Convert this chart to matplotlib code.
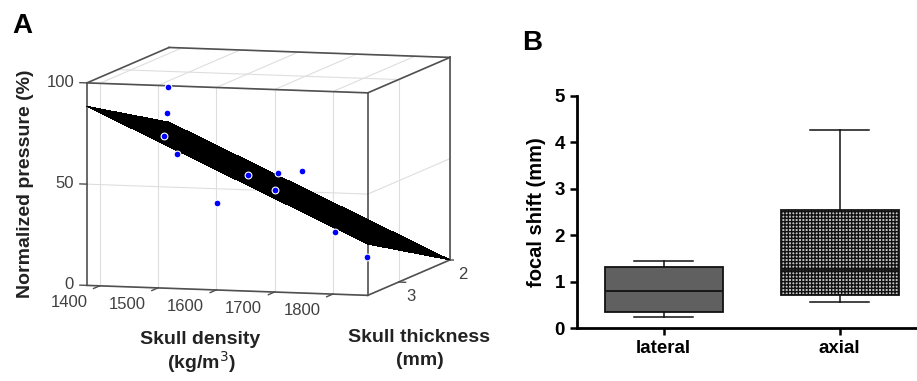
import numpy as np
import matplotlib.pyplot as plt
from mpl_toolkits.mplot3d import proj3d

plt.rcParams['font.family'] = ['Liberation Sans', 'DejaVu Sans']
plt.rcParams['hatch.color'] = '#8a8a8a'

# panel A: measured points
density = [1420, 1401, 1423, 1453, 1549, 1548, 1680, 1604, 1738, 1742, 1855]
thickness = [2.5, 2.3, 2.6, 2.7, 3.0, 2.4, 3.3, 2.5, 3.5, 2.9, 3.55]
pressure = [86.6, 71.2, 63.3, 55.9, 36.0, 43.3, 55.5, 37.3, 58.9, 22.6, 18.4]

# panel A: fitted plane corners (rows = thickness, cols = density)
fit_density = [1378, 1860]
fit_thickness = [2.0, 3.6]
fit_pressure = [[63.1, 0.0], [88.4, 25.3]]

density_ticks = [1400, 1500, 1600, 1700, 1800]
thickness_ticks = [2, 3]
pressure_ticks = [0, 50, 100]

# panel B: box plot stats
groups = ['lateral', 'axial']
whisker_low = [0.24, 0.57]
q1 = [0.34, 0.72]
median = [0.79, 1.24]
q3 = [1.31, 2.54]
whisker_high = [1.45, 4.25]

fig = plt.figure(figsize=(9.17, 3.81), dpi=100)

# ---- A ----
axA = fig.add_axes([0.0121, 0.0366, 0.55, 1.0], projection='3d', proj_type='ortho',
                   computed_zorder=False)
axA.view_init(elev=-7.1, azim=-106)
axA.set_box_aspect((295, 301, 206), zoom=1.184)
axA.set_xlim(1378, 1860)
axA.set_ylim(2.0, 3.6)
axA.set_zlim(0, 100)
axA.set_xticks([])
axA.set_yticks([])
axA.set_zticks([])
for axis in (axA.xaxis, axA.yaxis, axA.zaxis):
    axis.set_pane_color((1, 1, 1, 0))
    axis.line.set_linewidth(0)
axA.grid(False)

x0, x1 = axA.get_xlim()
y0, y1 = axA.get_ylim()
z0, z1 = axA.get_zlim()

# MATLAB-like grid on the three back walls
grid_kw = dict(color='#dedede', linewidth=0.8, zorder=0)
for d in density_ticks:
    axA.plot([d, d], [y1, y1], [z0, z1], **grid_kw)
    axA.plot([d, d], [y0, y1], [z1, z1], **grid_kw)
for t in thickness_ticks:
    axA.plot([x1, x1], [t, t], [z0, z1], **grid_kw)
    axA.plot([x0, x1], [t, t], [z1, z1], **grid_kw)
for p in pressure_ticks:
    axA.plot([x0, x1], [y1, y1], [p, p], **grid_kw)
    axA.plot([x1, x1], [y0, y1], [p, p], **grid_kw)

# box outline of the back walls
edge_kw = dict(color='#505050', linewidth=1.2, zorder=0.5)
axA.plot([x0, x1], [y1, y1], [z0, z0], **edge_kw)
axA.plot([x0, x1], [y1, y1], [z1, z1], **edge_kw)
axA.plot([x0, x0], [y1, y1], [z0, z1], **edge_kw)
axA.plot([x1, x1], [y1, y1], [z0, z1], **edge_kw)
axA.plot([x1, x1], [y0, y1], [z0, z0], **edge_kw)
axA.plot([x1, x1], [y0, y1], [z1, z1], **edge_kw)
axA.plot([x1, x1], [y0, y0], [z0, z1], **edge_kw)
axA.plot([x0, x0], [y0, y1], [z1, z1], **edge_kw)
axA.plot([x0, x1], [y0, y0], [z1, z1], **edge_kw)

# tick marks
tick_kw = dict(color='#505050', linewidth=1.0, zorder=0.5)
for d in density_ticks:
    axA.plot([d, d], [y1, y1 + 0.12], [z0, z0], **tick_kw)
for t in thickness_ticks:
    axA.plot([x1, x1 + 12], [t, t], [z0, z0], **tick_kw)
for p in pressure_ticks:
    axA.plot([x0 - 12, x0], [y1, y1], [p, p], **tick_kw)

X, Y = np.meshgrid(fit_density, fit_thickness)
axA.plot_surface(X, Y, np.array(fit_pressure), color='black', shade=False,
                 linewidth=0, antialiased=False, zorder=1)
axA.scatter(density, thickness, pressure, s=24, c='#0000ff', edgecolors='white',
            linewidths=0.8, depthshade=False, zorder=3)

# tick labels: project 3D anchor points once the view matrix exists
fig.canvas.draw()
lab_kw = dict(fontsize=12, color='#404040', transform=axA.transData)
for d in density_ticks:
    px, py, _ = proj3d.proj_transform(d, 4.2, -1.5, axA.M)
    axA.text2D(px, py, str(d), ha='center', va='center', **lab_kw)
for t in thickness_ticks:
    px, py, _ = proj3d.proj_transform(1882, t, -7, axA.M)
    axA.text2D(px, py, str(t), ha='center', va='center', **lab_kw)
for p in pressure_ticks:
    px, py, _ = proj3d.proj_transform(1356, 3.6, p, axA.M)
    axA.text2D(px, py, str(p), ha='right', va='center', **lab_kw)

fig.text(0.013, 0.965, 'A', fontsize=20, fontweight='bold', va='top')
fig.text(0.028, 0.517, 'Normalized pressure (%)', rotation=90, fontsize=14,
         fontweight='bold', ha='center', va='center', color='#222222')
fig.text(0.218, 0.108, 'Skull density', fontsize=14, fontweight='bold',
         ha='center', va='center', color='#222222')
fig.text(0.220, 0.050, '(kg/m$^3$)', fontsize=14, fontweight='bold',
         ha='center', va='center', color='#222222')
fig.text(0.457, 0.115, 'Skull thickness', fontsize=14, fontweight='bold',
         ha='center', va='center', color='#222222')
fig.text(0.458, 0.055, '(mm)', fontsize=14, fontweight='bold',
         ha='center', va='center', color='#222222')

# ---- B ----
axB = fig.add_axes([0.629, 0.139, 0.371, 0.610])
stats = []
for i in range(len(groups)):
    stats.append(dict(whislo=whisker_low[i], q1=q1[i], med=median[i],
                      q3=q3[i], whishi=whisker_high[i], fliers=[]))
bp = axB.bxp(stats, positions=[1, 2], widths=0.67, patch_artist=True,
             showfliers=False, capwidths=0.335,
             boxprops=dict(linewidth=1.3, edgecolor='#111111'),
             medianprops=dict(color='#111111', linewidth=1.3),
             whiskerprops=dict(color='#111111', linewidth=1.1),
             capprops=dict(color='#111111', linewidth=1.1))
bp['boxes'][0].set_facecolor('#606060')
bp['boxes'][1].set_facecolor('#c4c4c4')
bp['boxes'][1].set_hatch('+++++')

axB.set_xlim(0.506, 2.44)
axB.set_ylim(0, 5)
axB.set_yticks([0, 1, 2, 3, 4, 5])
axB.set_xticks([1, 2])
axB.set_xticklabels(groups)
for s in ('top', 'right'):
    axB.spines[s].set_visible(False)
for s in ('left', 'bottom'):
    axB.spines[s].set_linewidth(2)
axB.tick_params(width=1.8, length=5, labelsize=13.5)
for lab in axB.get_xticklabels() + axB.get_yticklabels():
    lab.set_fontweight('bold')
axB.set_ylabel('focal shift (mm)', fontsize=14.5, fontweight='bold', labelpad=6)

fig.text(0.569, 0.921, 'B', fontsize=20, fontweight='bold', va='top')

fig.savefig('out.png', dpi=100)
